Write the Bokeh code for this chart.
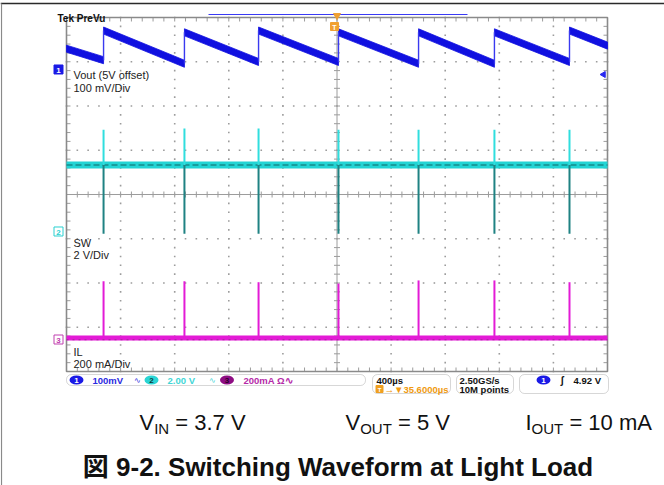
import numpy as np
from bokeh.plotting import figure
from bokeh.models import Range1d, BoxAnnotation, Label
from bokeh.embed import file_html
from bokeh.resources import INLINE

# ---------------- data (read from the scope capture) ----------------
event_times_us = [-1726, -1128, -580, 11, 603, 1164, 1719]
vout_peak_mv = [88, 84, 88, 84, 84, 84, 88]
vout_trough_mv = [21, 13, 17, 17, 13, 13, 17]
vout_left_mv = 47
vout_right_mv = 54
sw_level_v = 3.0
sw_spike_high_v = [4.6, 4.65, 4.65, 4.6, 4.6, 4.6, 4.6]
sw_spike_low_v = [-0.1, -0.1, -0.1, -0.1, -0.1, -0.1, -0.1]
il_level_ma = 7
il_spike_ma = [263, 263, 259, 253, 267, 267, 259]

# scope settings
time_per_div_us = 400
ch1_mv_per_div = 100
ch2_v_per_div = 2
ch3_ma_per_div = 200
ch1_pos_div = 2.825
ch2_pos_div = -0.836
ch3_pos_div = -3.277

# ---------------- geometry helpers (reference pixel -> data) ----------------
def X(px):
    return (px - 336.5) / 54.1 * time_per_div_us

def Y(py):
    return (194 - py) / 44.25

SANS = "Liberation Sans"
CAP_FONT = "'Liberation Sans', 'Noto Sans CJK JP'"
W, H = 664, 485

p = figure(width=W, height=H, x_range=Range1d(X(0), X(W)), y_range=Range1d(Y(H), Y(0)),
           toolbar_location=None, output_backend="svg", min_border=0,
           x_axis_location=None, y_axis_location=None, outline_line_color=None,
           background_fill_color="white", border_fill_color="white")
p.grid.visible = False

# page frame lines
p.segment([X(0)], [Y(3)], [X(664)], [Y(3)], line_color="#2a2a2a", line_width=1.6)
p.segment([X(1)], [Y(3)], [X(1)], [Y(485)], line_color="#8a8a8a", line_width=1.2)

GRID = "#9c9c9c"
half_t = 5 * time_per_div_us
# dotted graticule
dx, dy = [], []
minor_x = np.arange(-half_t, half_t + 1, time_per_div_us / 5)
minor_y = np.round(np.arange(-4, 4.001, 0.2), 3)
for gx in np.arange(-half_t + time_per_div_us, half_t, time_per_div_us):
    if gx == 0:
        continue
    for gy in minor_y:
        dx.append(gx); dy.append(gy)
for gy in range(-3, 4):
    if gy == 0:
        continue
    for gx in minor_x:
        dx.append(gx); dy.append(gy)
p.scatter(dx, dy, marker="square", size=1.6, fill_color=GRID, line_color=None)

# center cross
p.segment([-half_t, 0], [0, -4], [half_t, 0], [0, 4], line_color=GRID, line_width=1)
tx = 3 / 0.13525
ty = 3 / 44.25
p.segment(list(minor_x), [-ty] * len(minor_x), list(minor_x), [ty] * len(minor_x), line_color=GRID, line_width=1)
p.segment([-tx] * len(minor_y), list(minor_y), [tx] * len(minor_y), list(minor_y), line_color=GRID, line_width=1)
# border ticks
bt = 4
p.segment(list(minor_x), [4] * len(minor_x), list(minor_x), [4 - bt / 44.25] * len(minor_x), line_color=GRID, line_width=1)
p.segment(list(minor_x), [-4] * len(minor_x), list(minor_x), [-4 + bt / 44.25] * len(minor_x), line_color=GRID, line_width=1)
p.segment([-half_t] * len(minor_y), list(minor_y), [-half_t + bt / 0.13525] * len(minor_y), list(minor_y), line_color=GRID, line_width=1)
p.segment([half_t] * len(minor_y), list(minor_y), [half_t - bt / 0.13525] * len(minor_y), list(minor_y), line_color=GRID, line_width=1)
p.quad(left=[-half_t], right=[half_t], bottom=[-4], top=[4], fill_color=None, line_color="#8a8a8a", line_width=1.6)

# ---------------- channel 1: Vout ----------------
def v1(mv):
    return ch1_pos_div + mv / ch1_mv_per_div

h = 0.08
xs, ys = [], []
starts = [(-half_t, vout_left_mv)] + list(zip(event_times_us, vout_peak_mv))
ends = list(zip(event_times_us, vout_trough_mv)) + [(half_t, vout_right_mv)]
for (x0, m0), (x1, m1) in zip(starts, ends):
    xs.append([x0, x1, x1, x0])
    ys.append([v1(m0) + h, v1(m1) + h, v1(m1) - h, v1(m0) - h])
p.patches(xs, ys, fill_color="#1010e0", line_color="#1010e0", line_width=0.8)
p.segment(event_times_us, [v1(m) for m in vout_trough_mv], event_times_us,
          [v1(m) for m in vout_peak_mv], line_color="#3a3af0", line_width=1.4)

# ---------------- channel 2: SW ----------------
def v2(v):
    return ch2_pos_div + v / ch2_v_per_div

p.line([-half_t, half_t], [v2(sw_level_v)] * 2, line_color="#22d4d4", line_width=7)
p.line([-half_t, half_t], [v2(sw_level_v)] * 2, line_color="#168a8a", line_width=1.5, line_dash="6 3")
p.segment(event_times_us, [v2(sw_level_v)] * 7, event_times_us, [v2(v) for v in sw_spike_high_v],
          line_color="#30dede", line_width=2)
p.segment(event_times_us, [v2(v) for v in sw_spike_low_v], event_times_us, [v2(sw_level_v)] * 7,
          line_color="#1f8283", line_width=2)

# ---------------- channel 3: IL ----------------
def v3(ma):
    return ch3_pos_div + ma / ch3_ma_per_div

p.line([-half_t, half_t], [v3(il_level_ma)] * 2, line_color="#e31bd6", line_width=5)
p.line([-half_t, half_t], [v3(il_level_ma) - 0.04] * 2, line_color="#a02a98", line_width=1, line_dash="2 4")
p.segment(event_times_us, [v3(il_level_ma)] * 7, event_times_us, [v3(m) for m in il_spike_ma],
          line_color="#e31bd6", line_width=2)

# ---------------- annotations ----------------
def lab(px, py, text, size, color="#222222", bold=False, align="left", font=SANS, baseline="middle"):
    p.add_layout(Label(x=X(px), y=Y(py), text=text, text_font=font, text_font_size=f"{size}px",
                       text_color=color, text_font_style="bold" if bold else "normal",
                       text_align=align, text_baseline=baseline))

lab(73, 74, "Vout (5V offset)", 11)
lab(73, 87.5, "100 mV/Div", 11)
lab(73, 242, "SW", 11)
lab(73, 254.5, "2 V/Div", 11)
lab(73, 351, "IL", 11)
lab(73, 363.5, "200 mA/Div", 11)

# channel markers
p.scatter([X(58)], [ch1_pos_div], marker="square", size=9, fill_color="#1a1ae6", line_color="#1a1ae6")
lab(58, 69.5, "1", 8, color="white", bold=True, align="center")
p.scatter([X(58)], [ch2_pos_div], marker="square", size=9, fill_color="white", line_color="#2ad0d0")
lab(58, 231.5, "2", 8, color="#2ad0d0", bold=True, align="center")
p.scatter([X(58)], [ch3_pos_div], marker="square", size=9, fill_color="white", line_color="#c040b0")
lab(58, 339.5, "3", 8, color="#c040b0", bold=True, align="center")
p.scatter([X(603)], [Y(74)], marker="triangle", angle=np.pi / 2, size=6, fill_color="#2a2af0", line_color="#2a2af0")

# top indicators
lab(57, 17.5, "Tek PreVu", 10, color="#111111", bold=True, baseline="alphabetic")
p.add_layout(BoxAnnotation(left=X(3), right=X(664), top=Y(4.5), bottom=Y(12.5), fill_color="white",
                           fill_alpha=1, line_color=None))
p.segment([X(208)], [Y(14)], [X(467)], [Y(14)], line_color="#3a3af5", line_width=1.2)
p.scatter([X(336.5)], [Y(15)], marker="inverted_triangle", size=7, fill_color="#f0a030", line_color="#f0a030")
p.scatter([X(334)], [Y(26)], marker="square", size=8, fill_color="#f0a030", line_color="#f0a030")
lab(334, 26.5, "T", 7, color="white", bold=True, align="center")

# status bar
for l, r, t, b in [(66, 365, 374, 385), (372, 450, 374, 393), (456, 513, 374, 393), (519, 608, 374, 393)]:
    p.add_layout(BoxAnnotation(left=X(l), right=X(r), top=Y(t), bottom=Y(b), fill_color=None,
                               line_color="#7a7a7a", line_width=1, border_radius=5))

p.ellipse([X(76), X(151), X(226.5), X(543)], [Y(379.5)] * 4, width=14, height=9,
          width_units="screen", height_units="screen",
          fill_color=["#1a1ae6", "#2ad4d4", "#8e0d83", "#1a1ae6"], line_color=None)
lab(76, 380, "1", 8, color="white", bold=True, align="center")
lab(151, 380, "2", 8, color="#0d3a3a", bold=True, align="center")
lab(226.5, 380, "3", 8, color="#2a002a", bold=True, align="center")
lab(543, 380, "1", 8, color="white", bold=True, align="center")
lab(92, 380, "100mV", 9.5, color="#2a2ae0", bold=True)
lab(133, 380, "∿", 8, color="#2a2ae0")
lab(167, 380, "2.00 V", 9.5, color="#3fd6d6", bold=True)
lab(208, 380, "∿", 8, color="#3fd6d6")
lab(243, 380, "200mA Ω∿", 9.5, color="#b52aa8", bold=True)

lab(376, 379.5, "400µs", 9.5, color="#111111", bold=True)
p.scatter([X(379)], [Y(388.5)], marker="square", size=7, fill_color="#f0a020", line_color="#f0a020")
lab(379, 389, "T", 6, color="white", bold=True, align="center")
lab(384, 388.5, "→▼35.6000µs", 9.5, color="#f09a10", bold=True)
lab(459, 379.5, "2.50GS/s", 9.5, color="#111111", bold=True)
lab(459, 388.5, "10M points", 9.5, color="#111111", bold=True)
lab(560, 379.5, "ʃ", 10, color="#111111", bold=True)
lab(573, 379.5, "4.92 V", 9.5, color="#111111", bold=True)

# test conditions
def cond(px, main, sub, rest, size=22, sub_size=15):
    lab(px, 422, main, size, color="#111111")
    wmain = (0.667 if main == "V" else 0.278) * size
    lab(px + wmain, 428, sub, sub_size, color="#111111")
    wsub = {"IN": 1.0, "OUT": 2.111}[sub] * sub_size
    lab(px + wmain + wsub + 0.278 * size, 422, rest, size, color="#111111")

cond(139, "V", "IN", "= 3.7 V")
cond(345, "V", "OUT", "= 5 V")
cond(525, "I", "OUT", "= 10 mA")

lab(337.5, 466, "図 9-2. Switching Waveform at Light Load", 26, color="#111111", bold=True,
    align="center", font=CAP_FONT)

open("out.html", "w").write(file_html(p, INLINE))
